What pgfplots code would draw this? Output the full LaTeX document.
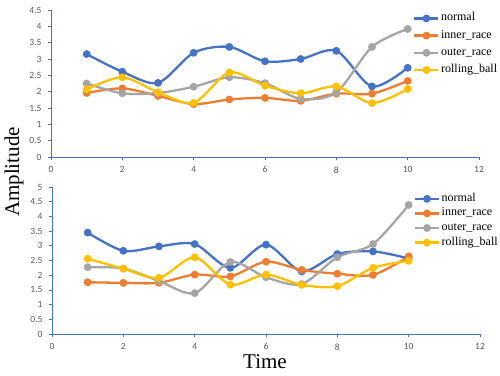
\documentclass[border=0pt]{standalone}
\usepackage{fontspec}
\setmainfont{Liberation Serif}
\newfontfamily\tickfont{Carlito}
\usepackage{pgfplots}
\pgfplotsset{compat=1.18}

\definecolor{cnormal}{HTML}{4472C4}
\definecolor{cinner}{HTML}{ED7D31}
\definecolor{couter}{HTML}{A5A5A5}
\definecolor{croll}{HTML}{FFC000}
\definecolor{axblue}{HTML}{4472C4}
\definecolor{ticktext}{HTML}{595959}

\pgfplotsset{
  panel/.style={
    scale only axis,
    width=428pt,
    height=147pt,
    xmin=0, xmax=12,
    xtick={0,2,...,12},
    ymin=0,
    axis x line=bottom,
    axis y line=left,
    axis line style={-, draw=axblue, line width=0.9pt},
    tick style={draw=axblue, line width=0.8pt},
    tick align=outside,
    major tick length=3pt,
    /pgf/number format/assume math mode=true,
    ticklabel style={font=\tickfont\fontsize{9.5}{10}\selectfont, text=ticktext},
    xticklabel style={yshift=-3pt},
    yticklabel style={xshift=-3pt},
    legend cell align=left,
    legend style={draw=none, fill=none, anchor=north west,
      font=\fontsize{12}{12}\selectfont,
      nodes={inner sep=0pt, text height=8pt, text depth=3pt},
      column sep=1.5pt},
    legend image code/.code={
      \draw[mark repeat=2, mark phase=2] plot coordinates {(0pt,0pt) (12pt,0pt) (24pt,0pt)};
    },
    every axis plot/.append style={line width=2.3pt, smooth, tension=0.5, mark=*, mark size=2.7pt},
  },
}

\begin{document}
\begin{tikzpicture}
\useasboundingbox (0,0) rectangle (500pt,375pt);

% upper panel
\begin{axis}[panel, at={(51pt,218pt)}, anchor=south west,
  ymax=4.5, ytick={0,0.5,...,4.5},
  legend style={at={(0.839,0.995)}, row sep=6.2pt}]
\addplot[cnormal, mark options={fill=cnormal}] coordinates {
  (1,3.15) (2,2.61) (3,2.27) (4,3.19) (5,3.37) (6,2.93) (7,3.00) (8,3.25) (9,2.16) (10,2.73)};
\addplot[cinner, mark options={fill=cinner}] coordinates {
  (1,1.96) (2,2.10) (3,1.87) (4,1.62) (5,1.76) (6,1.81) (7,1.72) (8,1.94) (9,1.94) (10,2.33)};
\addplot[couter, mark options={fill=couter}] coordinates {
  (1,2.25) (2,1.95) (3,1.96) (4,2.15) (5,2.44) (6,2.26) (7,1.78) (8,1.98) (9,3.37) (10,3.92)};
\addplot[croll, mark options={fill=croll}] coordinates {
  (1,2.07) (2,2.44) (3,1.98) (4,1.66) (5,2.59) (6,2.18) (7,1.95) (8,2.16) (9,1.65) (10,2.08)};
\legend{normal,inner\_race,outer\_race,rolling\_ball}
\end{axis}

% lower panel
\begin{axis}[panel, at={(52pt,41pt)}, anchor=south west,
  ymax=5, ytick={0,0.5,...,5},
  legend style={at={(0.838,0.972)}, row sep=3.6pt}]
\addplot[cnormal, mark options={fill=cnormal}] coordinates {
  (1,3.45) (2,2.83) (3,2.98) (4,3.06) (5,2.25) (6,3.04) (7,2.13) (8,2.72) (9,2.81) (10,2.57)};
\addplot[cinner, mark options={fill=cinner}] coordinates {
  (1,1.76) (2,1.74) (3,1.74) (4,2.02) (5,1.96) (6,2.46) (7,2.18) (8,2.05) (9,2.01) (10,2.64)};
\addplot[couter, mark options={fill=couter}] coordinates {
  (1,2.27) (2,2.23) (3,1.80) (4,1.39) (5,2.45) (6,1.93) (7,1.70) (8,2.61) (9,3.06) (10,4.39)};
\addplot[croll, mark options={fill=croll}] coordinates {
  (1,2.56) (2,2.22) (3,1.91) (4,2.61) (5,1.68) (6,2.02) (7,1.67) (8,1.63) (9,2.25) (10,2.49)};
\legend{normal,inner\_race,outer\_race,rolling\_ball}
\end{axis}

\node[rotate=90, font=\fontsize{21}{21}\selectfont] at (14pt,203pt) {Amplitude};
\node[anchor=base, font=\fontsize{21}{21}\selectfont] at (265pt,7pt) {Time};
\end{tikzpicture}
\end{document}
